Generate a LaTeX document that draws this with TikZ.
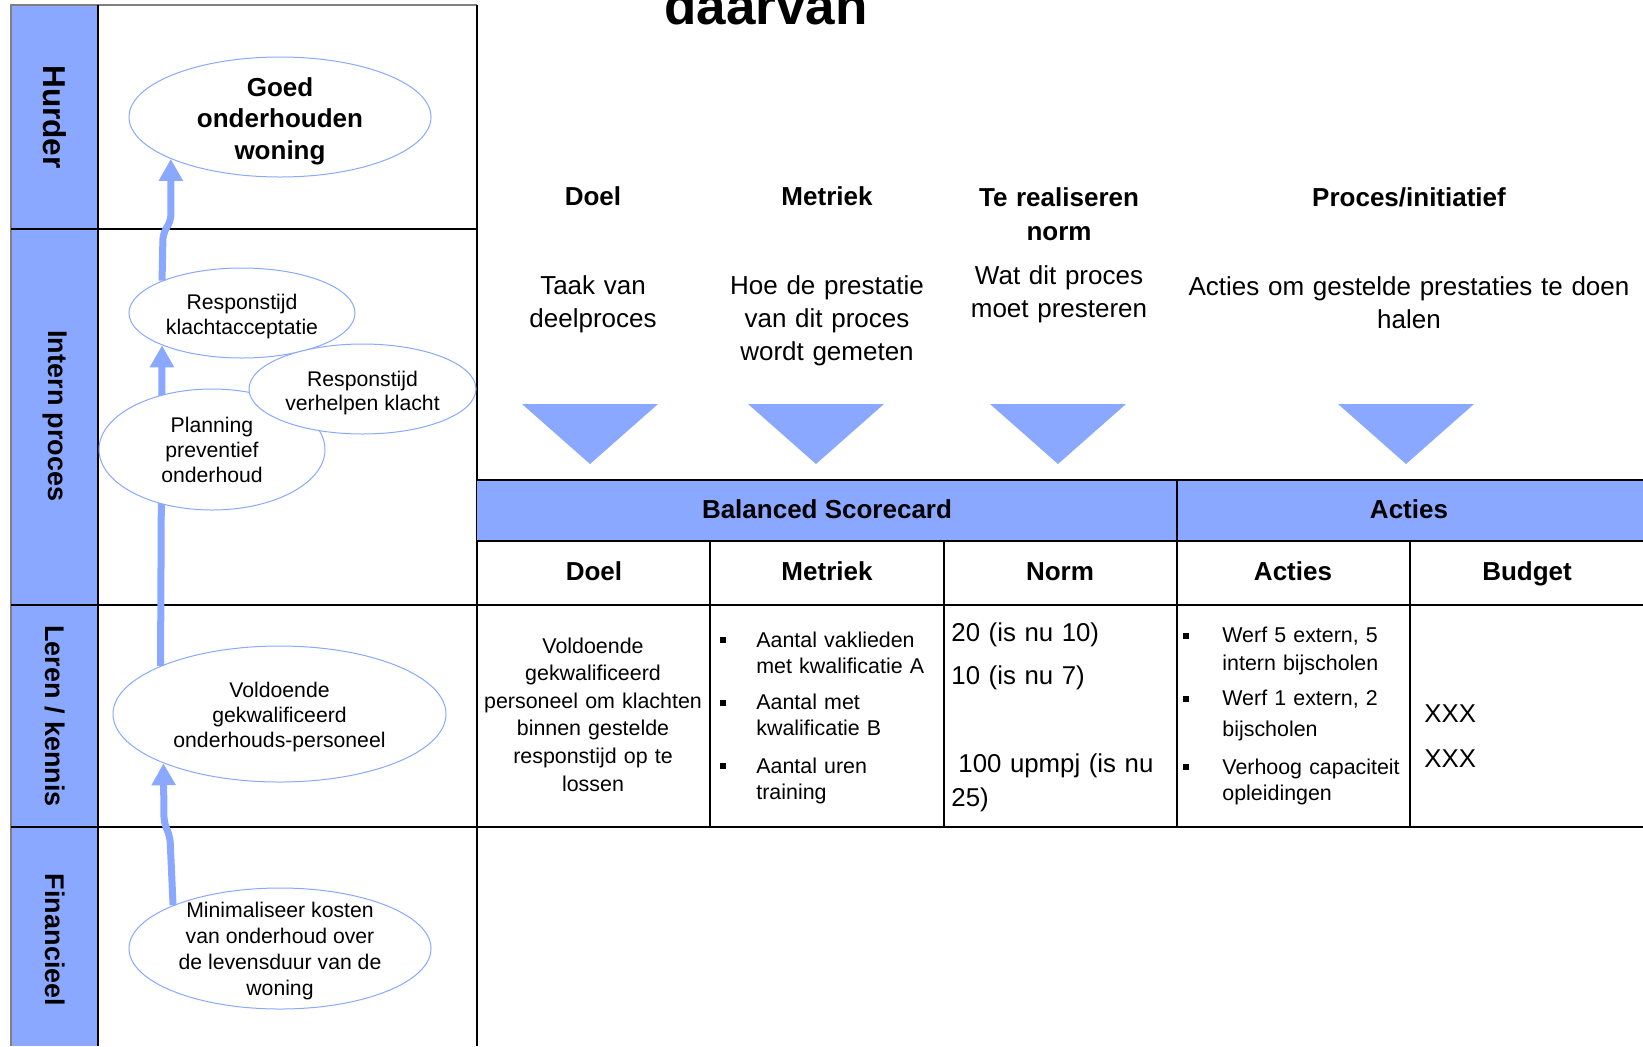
\documentclass[tikz,border=0pt]{standalone}
\usepackage{fontspec}
\setmainfont{Liberation Sans}
\usetikzlibrary{shapes.geometric,arrows.meta}
\definecolor{bscblue}{RGB}{138,168,255}
\newcommand{\lift}[1]{\rule{0pt}{#1}} % extra room above the first line

\begin{document}
\begin{tikzpicture}[x=0.5pt,y=-0.5pt,
  grid/.style={line width=1pt},
  lane/.style={rotate=-90, font=\bfseries\fontsize{13.5}{16}\selectfont},
  goal/.style={ellipse, draw=bscblue, line width=0.5pt, fill=white, inner xsep=0pt, inner ysep=-6pt, align=center, font=\fontsize{10.6}{12.25}\selectfont},
  link/.style={draw=bscblue, line width=3.5pt, rounded corners=3pt, -{Triangle[length=11pt,width=11.5pt]}},
  hd/.style={anchor=base, inner sep=0pt, text width=240pt, align=center, font=\bfseries\fontsize{13}{17}\selectfont},
  sub/.style={anchor=base, inner sep=0pt, text width=240pt, align=center, font=\fontsize{13}{16.5}\selectfont},
  th/.style={anchor=base, inner sep=0pt, font=\bfseries\fontsize{13}{16}\selectfont},
  cell/.style={anchor=base, inner sep=0pt, text width=115pt, align=center, font=\fontsize{10.7}{13.8}\selectfont},
  item/.style={anchor=base west, inner sep=0pt, text width=100pt, align=left, font=\fontsize{10.7}{13.4}\selectfont},
  val/.style={anchor=base west, inner sep=0pt, text width=110pt, align=left, font=\fontsize{12.9}{17}\selectfont}]
\useasboundingbox (0,0) rectangle (1643,1046);

% Lanes
\fill[bscblue] (11,5) rectangle (98,1046); % blue lane column
\draw[gray, line width=0.6pt] (11,1046) -- (11,5) -- (477,5); % outer border
\draw[grid] (98,5) -- (98,1046);
\draw[grid] (477,5) -- (477,1046);
\draw[grid] (11,229) -- (477,229);
\draw[grid] (11,604.6) -- (1643,604.6);
\draw[grid] (11,827) -- (1643,827);
\node[lane, font=\bfseries\fontsize{15.8}{18}\selectfont] (huurder) at (55,117) {Hurder};
\node[lane] (intern) at (55,416) {Intern proces};
\node[lane] (leren) at (55,716) {Leren / kennis};
\node[lane] (financieel) at (55,940) {Financieel};

% Title (cut off at the top)
\node[anchor=base, inner sep=0pt, font=\bfseries\fontsize{26.5}{30}\selectfont] (titel) at (766,24) {daarvan};

% Column headings
\node[hd] (hdoel) at (593,205) {Doel};
\node[hd] (hmetriek) at (827,205) {Metriek};
\node[hd] (hnorm) at (1059,206) {Te realiseren\\norm};
\node[hd] (hproces) at (1409,206) {Proces/initiatief};
\node[sub] (sdoel) at (593,294) {Taak van\\deelproces};
\node[sub] (smetriek) at (827,294) {Hoe de prestatie\\van dit proces\\wordt gemeten};
\node[sub] (snorm) at (1059,284) {Wat dit proces\\moet presteren};
\node[sub] (sproces) at (1409,295) {Acties om gestelde prestaties te doen\\halen};

% Down triangles
\foreach \cx in {590,816,1058,1406}
  \fill[bscblue] (\cx-68,404) -- (\cx+68,404) -- (\cx,464) -- cycle;

% Scorecard table
\fill[bscblue] (477,480) rectangle (1643,541);
\draw[grid] (477,480) -- (1643,480);
\draw[grid] (477,541) -- (1643,541);
\draw[grid] (1177,480) -- (1177,827);
\foreach \x in {710,944,1410}
  \draw[grid] (\x,541) -- (\x,827);
\node[th] (bsc) at (827,518) {Balanced Scorecard};
\node[th] (acties) at (1409,518) {Acties};
\node[th] (tdoel) at (594,580) {Doel};
\node[th] (tmetriek) at (827,580) {Metriek};
\node[th] (tnorm) at (1060,580) {Norm};
\node[th] (tacties) at (1293,580) {Acties};
\node[th] (tbudget) at (1527,580) {Budget};

% Table cells
\node[cell] (cdoel) at (593,653) {Voldoende\\gekwalificeerd\\personeel om klachten\\binnen gestelde\\responstijd op te\\lossen};
\node[item] (m1) at (756,647) {Aantal vaklieden\\met kwalificatie A};
\node[item] (m2) at (756,709) {Aantal met\\kwalificatie B};
\node[item] (m3) at (756,773) {Aantal uren\\training};
\node[val] (n1) at (951,641) {20 (is nu 10)};
\node[val] (n2) at (951,684) {10 (is nu 7)};
\node[val] (n3) at (951,772) {\hspace*{3.5pt}100 upmpj (is nu\\25)};
\node[item, font=\fontsize{10.7}{14}\selectfont] (a1) at (1222,642) {Werf 5 extern, 5\\intern bijscholen};
\node[item, font=\fontsize{10.7}{15.5}\selectfont] (a2) at (1222,705) {Werf 1 extern, 2\\bijscholen};
\node[item] (a3) at (1222,774) {Verhoog capaciteit\\opleidingen};
\node[val] (b1) at (1424,722) {XXX};
\node[val] (b2) at (1424,767) {XXX};
\foreach \by in {640,703,766} % bullets Metriek
  \fill (723-2.8,\by-2.8) rectangle (723+2.8,\by+2.8);
\foreach \by in {636,699,767} % bullets Acties
  \fill (1186-2.8,\by-2.8) rectangle (1186+2.8,\by+2.8);

% Goals
\node[goal, font=\bfseries\fontsize{13}{15.75}\selectfont, minimum width=151pt, minimum height=60pt] (goed) at (280,117) {\lift{13.7pt}Goed\\onderhouden\\woning};
\node[goal, minimum width=113pt, minimum height=45pt] (klacht) at (242,313) {\lift{11pt}Responstijd\\klachtacceptatie};
\node[goal, font=\fontsize{10.6}{12.5}\selectfont, minimum width=166.5pt, minimum height=68pt] (vold) at (279.5,714) {\lift{11pt}Voldoende\\gekwalificeerd\\onderhouds-personeel};
\node[goal, font=\fontsize{10.6}{13}\selectfont, minimum width=151pt, minimum height=60.5pt] (mini) at (280,948.5) {\lift{10.5pt}Minimaliseer kosten\\van onderhoud over\\de levensduur van de\\woning};

% Links
\draw[link] (klacht.158) -- (163,234) -- (171,220) -- (goed.201);
\draw[link] (vold.158) -- (klacht.202);
\draw[link] (mini.158) -- (170,837) -- (164,822) -- (vold.203);

% Goals on top of the link
\node[goal, font=\fontsize{10.6}{12.5}\selectfont, minimum width=113pt, minimum height=60.5pt] (planning) at (212,449.5) {Planning\\preventief\\onderhoud};
\node[goal, minimum width=113.5pt, minimum height=45pt] (verhelpen) at (362.5,389) {\lift{11.5pt}Responstijd\\verhelpen klacht};

\end{tikzpicture}
\end{document}
